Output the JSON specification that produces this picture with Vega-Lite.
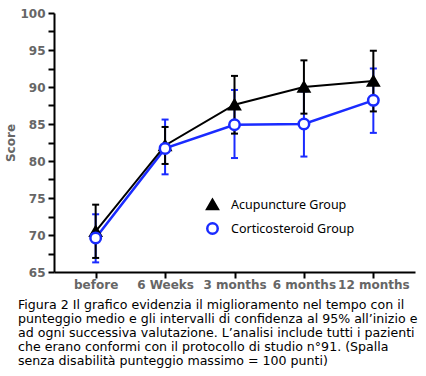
{
  "$schema": "https://vega.github.io/schema/vega-lite/v6.json",
  "width": 361,
  "height": 259,
  "autosize": "none",
  "padding": {"left": 54, "top": 13, "right": 11, "bottom": 104},
  "background": "white",
  "title": {
    "text": [
      "Figura 2 Il grafico evidenzia il miglioramento nel tempo con il",
      "punteggio medio e gli intervalli di confidenza al 95% all’inizio e",
      "ad ogni successiva valutazione. L’analisi include tutti i pazienti",
      "che erano conformi con il protocollo di studio n°91. (Spalla",
      "senza disabilità punteggio massimo = 100 punti)"
    ],
    "orient": "bottom",
    "anchor": "start",
    "frame": "group",
    "dx": -36,
    "offset": 9,
    "font": "DejaVu Sans",
    "fontSize": 12.6,
    "fontWeight": "normal",
    "color": "#000000",
    "lineHeight": 14
  },
  "data": {
    "values": [
      {"group": "Acupuncture Group", "time": "before", "mean": 70.5, "lo": 66.9, "hi": 74.1},
      {"group": "Acupuncture Group", "time": "6 Weeks", "mean": 82.1, "lo": 79.6, "hi": 84.6},
      {"group": "Acupuncture Group", "time": "3 months", "mean": 87.6, "lo": 83.7, "hi": 91.5},
      {"group": "Acupuncture Group", "time": "6 months", "mean": 90.0, "lo": 86.4, "hi": 93.6},
      {"group": "Acupuncture Group", "time": "12 months", "mean": 90.8, "lo": 86.7, "hi": 94.9},
      {"group": "Corticosteroid Group", "time": "before", "mean": 69.6, "lo": 66.3, "hi": 72.8},
      {"group": "Corticosteroid Group", "time": "6 Weeks", "mean": 81.7, "lo": 78.2, "hi": 85.6},
      {"group": "Corticosteroid Group", "time": "3 months", "mean": 84.9, "lo": 80.4, "hi": 89.6},
      {"group": "Corticosteroid Group", "time": "6 months", "mean": 85.0, "lo": 80.6, "hi": 89.4},
      {"group": "Corticosteroid Group", "time": "12 months", "mean": 88.2, "lo": 83.8, "hi": 92.5}
    ]
  },
  "encoding": {
    "x": {
      "field": "time",
      "type": "ordinal",
      "sort": ["before", "6 Weeks", "3 months", "6 months", "12 months"],
      "scale": {"type": "point", "padding": 0.6},
      "axis": {
        "title": null,
        "labelAngle": 0,
        "labelFont": "DejaVu Sans",
        "labelFontSize": 12,
        "labelFontWeight": "bold",
        "labelColor": "#666666",
        "labelPadding": 1,
        "labelOverlap": false,
        "domainColor": "#000000",
        "domainWidth": 2,
        "ticks": true,
        "tickColor": "#000000",
        "tickWidth": 2,
        "tickSize": 6
      }
    }
  },
  "layer": [
    {
      "transform": [{"filter": "datum.group === 'Corticosteroid Group'"}],
      "mark": {"type": "rule", "color": "#1a2bff", "strokeWidth": 2},
      "encoding": {
        "y": {"field": "lo", "type": "quantitative", "scale": {"domain": [65, 100], "nice": false, "zero": false},
          "axis": {"title": "Score", "titleFont": "DejaVu Sans", "titleFontSize": 12, "titleFontWeight": "bold", "titleColor": "#666666", "titlePadding": 2, "values": [65, 67.5, 70, 72.5, 75, 77.5, 80, 82.5, 85, 87.5, 90, 92.5, 95, 97.5, 100], "labelExpr": "datum.value % 5 === 0 ? datum.label : ''", "labelOverlap": false, "labelFont": "DejaVu Sans", "labelFontSize": 12, "labelFontWeight": "bold", "labelColor": "#666666", "labelPadding": 3, "domainColor": "#000000", "domainWidth": 2, "ticks": true, "tickColor": "#000000", "tickWidth": 2, "tickSize": 6}},
        "y2": {"field": "hi"}
      }
    },
    {
      "transform": [{"filter": "datum.group === 'Corticosteroid Group'"}],
      "mark": {"type": "point", "shape": "stroke", "color": "#1a2bff", "strokeWidth": 2, "size": 49, "opacity": 1},
      "encoding": {"y": {"field": "lo", "type": "quantitative", "scale": {"domain": [65, 100], "nice": false, "zero": false},
          "axis": {"title": "Score", "titleFont": "DejaVu Sans", "titleFontSize": 12, "titleFontWeight": "bold", "titleColor": "#666666", "titlePadding": 2, "values": [65, 67.5, 70, 72.5, 75, 77.5, 80, 82.5, 85, 87.5, 90, 92.5, 95, 97.5, 100], "labelExpr": "datum.value % 5 === 0 ? datum.label : ''", "labelOverlap": false, "labelFont": "DejaVu Sans", "labelFontSize": 12, "labelFontWeight": "bold", "labelColor": "#666666", "labelPadding": 3, "domainColor": "#000000", "domainWidth": 2, "ticks": true, "tickColor": "#000000", "tickWidth": 2, "tickSize": 6}}}
    },
    {
      "transform": [{"filter": "datum.group === 'Corticosteroid Group'"}],
      "mark": {"type": "point", "shape": "stroke", "color": "#1a2bff", "strokeWidth": 2, "size": 49, "opacity": 1},
      "encoding": {"y": {"field": "hi", "type": "quantitative", "scale": {"domain": [65, 100], "nice": false, "zero": false},
          "axis": {"title": "Score", "titleFont": "DejaVu Sans", "titleFontSize": 12, "titleFontWeight": "bold", "titleColor": "#666666", "titlePadding": 2, "values": [65, 67.5, 70, 72.5, 75, 77.5, 80, 82.5, 85, 87.5, 90, 92.5, 95, 97.5, 100], "labelExpr": "datum.value % 5 === 0 ? datum.label : ''", "labelOverlap": false, "labelFont": "DejaVu Sans", "labelFontSize": 12, "labelFontWeight": "bold", "labelColor": "#666666", "labelPadding": 3, "domainColor": "#000000", "domainWidth": 2, "ticks": true, "tickColor": "#000000", "tickWidth": 2, "tickSize": 6}}}
    },
    {
      "transform": [{"filter": "datum.group === 'Acupuncture Group'"}],
      "mark": {"type": "rule", "color": "#000000", "strokeWidth": 2},
      "encoding": {
        "y": {"field": "lo", "type": "quantitative", "scale": {"domain": [65, 100], "nice": false, "zero": false},
          "axis": {"title": "Score", "titleFont": "DejaVu Sans", "titleFontSize": 12, "titleFontWeight": "bold", "titleColor": "#666666", "titlePadding": 2, "values": [65, 67.5, 70, 72.5, 75, 77.5, 80, 82.5, 85, 87.5, 90, 92.5, 95, 97.5, 100], "labelExpr": "datum.value % 5 === 0 ? datum.label : ''", "labelOverlap": false, "labelFont": "DejaVu Sans", "labelFontSize": 12, "labelFontWeight": "bold", "labelColor": "#666666", "labelPadding": 3, "domainColor": "#000000", "domainWidth": 2, "ticks": true, "tickColor": "#000000", "tickWidth": 2, "tickSize": 6}},
        "y2": {"field": "hi"}
      }
    },
    {
      "transform": [{"filter": "datum.group === 'Acupuncture Group'"}],
      "mark": {"type": "point", "shape": "stroke", "color": "#000000", "strokeWidth": 2, "size": 49, "opacity": 1},
      "encoding": {"y": {"field": "lo", "type": "quantitative", "scale": {"domain": [65, 100], "nice": false, "zero": false},
          "axis": {"title": "Score", "titleFont": "DejaVu Sans", "titleFontSize": 12, "titleFontWeight": "bold", "titleColor": "#666666", "titlePadding": 2, "values": [65, 67.5, 70, 72.5, 75, 77.5, 80, 82.5, 85, 87.5, 90, 92.5, 95, 97.5, 100], "labelExpr": "datum.value % 5 === 0 ? datum.label : ''", "labelOverlap": false, "labelFont": "DejaVu Sans", "labelFontSize": 12, "labelFontWeight": "bold", "labelColor": "#666666", "labelPadding": 3, "domainColor": "#000000", "domainWidth": 2, "ticks": true, "tickColor": "#000000", "tickWidth": 2, "tickSize": 6}}}
    },
    {
      "transform": [{"filter": "datum.group === 'Acupuncture Group'"}],
      "mark": {"type": "point", "shape": "stroke", "color": "#000000", "strokeWidth": 2, "size": 49, "opacity": 1},
      "encoding": {"y": {"field": "hi", "type": "quantitative", "scale": {"domain": [65, 100], "nice": false, "zero": false},
          "axis": {"title": "Score", "titleFont": "DejaVu Sans", "titleFontSize": 12, "titleFontWeight": "bold", "titleColor": "#666666", "titlePadding": 2, "values": [65, 67.5, 70, 72.5, 75, 77.5, 80, 82.5, 85, 87.5, 90, 92.5, 95, 97.5, 100], "labelExpr": "datum.value % 5 === 0 ? datum.label : ''", "labelOverlap": false, "labelFont": "DejaVu Sans", "labelFontSize": 12, "labelFontWeight": "bold", "labelColor": "#666666", "labelPadding": 3, "domainColor": "#000000", "domainWidth": 2, "ticks": true, "tickColor": "#000000", "tickWidth": 2, "tickSize": 6}}}
    },
    {
      "transform": [{"filter": "datum.group === 'Corticosteroid Group'"}],
      "mark": {"type": "line", "color": "#1a2bff", "strokeWidth": 2.5},
      "encoding": {"y": {"field": "mean", "type": "quantitative", "scale": {"domain": [65, 100], "nice": false, "zero": false},
          "axis": {"title": "Score", "titleFont": "DejaVu Sans", "titleFontSize": 12, "titleFontWeight": "bold", "titleColor": "#666666", "titlePadding": 2, "values": [65, 67.5, 70, 72.5, 75, 77.5, 80, 82.5, 85, 87.5, 90, 92.5, 95, 97.5, 100], "labelExpr": "datum.value % 5 === 0 ? datum.label : ''", "labelOverlap": false, "labelFont": "DejaVu Sans", "labelFontSize": 12, "labelFontWeight": "bold", "labelColor": "#666666", "labelPadding": 3, "domainColor": "#000000", "domainWidth": 2, "ticks": true, "tickColor": "#000000", "tickWidth": 2, "tickSize": 6}}}
    },
    {
      "transform": [{"filter": "datum.group === 'Acupuncture Group'"}],
      "mark": {"type": "line", "color": "#000000", "strokeWidth": 2},
      "encoding": {"y": {"field": "mean", "type": "quantitative", "scale": {"domain": [65, 100], "nice": false, "zero": false},
          "axis": {"title": "Score", "titleFont": "DejaVu Sans", "titleFontSize": 12, "titleFontWeight": "bold", "titleColor": "#666666", "titlePadding": 2, "values": [65, 67.5, 70, 72.5, 75, 77.5, 80, 82.5, 85, 87.5, 90, 92.5, 95, 97.5, 100], "labelExpr": "datum.value % 5 === 0 ? datum.label : ''", "labelOverlap": false, "labelFont": "DejaVu Sans", "labelFontSize": 12, "labelFontWeight": "bold", "labelColor": "#666666", "labelPadding": 3, "domainColor": "#000000", "domainWidth": 2, "ticks": true, "tickColor": "#000000", "tickWidth": 2, "tickSize": 6}}}
    },
    {
      "mark": {"type": "point", "filled": false, "strokeWidth": 2.5, "size": 110, "opacity": 1},
      "encoding": {
        "y": {"field": "mean", "type": "quantitative", "scale": {"domain": [65, 100], "nice": false, "zero": false},
          "axis": {"title": "Score", "titleFont": "DejaVu Sans", "titleFontSize": 12, "titleFontWeight": "bold", "titleColor": "#666666", "titlePadding": 2, "values": [65, 67.5, 70, 72.5, 75, 77.5, 80, 82.5, 85, 87.5, 90, 92.5, 95, 97.5, 100], "labelExpr": "datum.value % 5 === 0 ? datum.label : ''", "labelOverlap": false, "labelFont": "DejaVu Sans", "labelFontSize": 12, "labelFontWeight": "bold", "labelColor": "#666666", "labelPadding": 3, "domainColor": "#000000", "domainWidth": 2, "ticks": true, "tickColor": "#000000", "tickWidth": 2, "tickSize": 6}},
        "shape": {
          "field": "group",
          "type": "nominal",
          "scale": {"domain": ["Acupuncture Group", "Corticosteroid Group"], "range": ["triangle-up", "circle"]},
          "legend": {
            "title": null,
            "orient": "none",
            "legendX": 152,
            "legendY": 185,
            "labelFont": "Noto Sans",
            "labelFontSize": 12.5,
            "labelColor": "#000000",
            "labelOffset": 12,
            "rowPadding": 3,
            "symbolSize": 110,
            "symbolStrokeWidth": 2.5
          }
        },
        "fill": {
          "field": "group",
          "type": "nominal",
          "scale": {"domain": ["Acupuncture Group", "Corticosteroid Group"], "range": ["#000000", "#ffffff"]}
        },
        "stroke": {
          "field": "group",
          "type": "nominal",
          "scale": {"domain": ["Acupuncture Group", "Corticosteroid Group"], "range": ["#000000", "#1a2bff"]}
        }
      }
    }
  ],
  "config": {
    "view": {"stroke": null},
    "axis": {"grid": false}
  }
}
